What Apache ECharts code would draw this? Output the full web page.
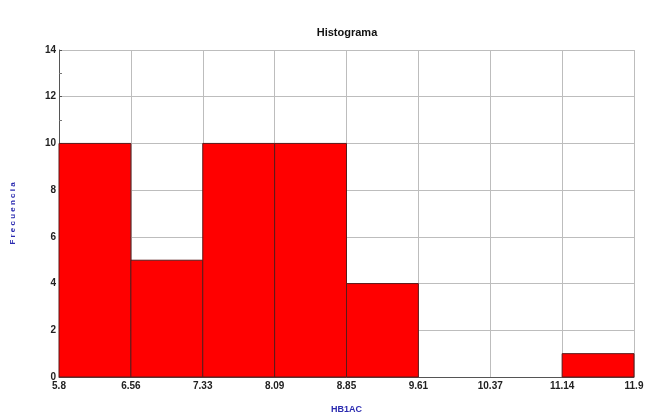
<!DOCTYPE html>
<html><head><meta charset="utf-8">
<script src="https://cdn.jsdelivr.net/npm/echarts@6/dist/echarts.min.js"></script>
<style>html,body{margin:0;padding:0;background:#fff}#c{width:646px;height:416px}</style>
</head><body><div id="c"></div>
<script>
const binEdges = ['5.8','6.56','7.33','8.09','8.85','9.61','10.37','11.14','11.9'];
const frequencies = [10, 5, 10, 10, 4, 0, 0, 1];
const yTicks = [0, 2, 4, 6, 8, 10, 12, 14];

const chart = echarts.init(document.getElementById('c'));
const font = '"Liberation Sans Narrow","Liberation Sans",Arial,sans-serif';
chart.setOption({
  animation: false,
  title: {
    text: 'Histograma', left: 342, top: 22, textAlign: 'center',
    textStyle: { fontFamily: 'Liberation Sans, Arial', fontSize: 11, fontWeight: 'bold', color: '#111' }
  },
  grid: { left: 59, right: 12, top: 50, bottom: 39, containLabel: false, outerBoundsMode: 'none' },
  xAxis: {
    type: 'value', min: 0, max: binEdges.length - 1, interval: 1,
    name: 'HB1AC', nameLocation: 'middle', nameGap: 28,
    nameTextStyle: { color: '#2b2bb0', fontFamily: 'Liberation Sans, Arial', fontSize: 9, fontWeight: 'bold' },
    axisLine: { show: true, onZero: false, lineStyle: { color: '#555', width: 1 } },
    axisTick: { show: false },
    splitLine: { show: true, lineStyle: { color: '#bdbdbd', width: 1 } },
    axisLabel: { formatter: v => binEdges[v], color: '#222', fontFamily: font, fontSize: 10, fontWeight: 'bold', margin: 4 }
  },
  yAxis: {
    type: 'value', min: 0, max: yTicks[yTicks.length - 1], interval: 2,
    name: 'F r e c u e n c i a', nameLocation: 'middle', nameGap: 42, nameRotate: 90,
    nameTextStyle: { color: '#2b2bb0', fontFamily: 'Liberation Sans, Arial', fontSize: 8, fontWeight: 'bold' },
    axisLine: { show: true, lineStyle: { color: '#555', width: 1 } },
    axisTick: { show: true, inside: true, length: 3, lineStyle: { color: '#555' } },
    minorTick: { show: true, splitNumber: 2, length: 3, lineStyle: { color: '#777' } },
    splitLine: { show: true, lineStyle: { color: '#bdbdbd', width: 1 } },
    axisLabel: { color: '#222', fontFamily: font, fontSize: 10, fontWeight: 'bold', margin: 3 }
  },
  series: [{
    type: 'custom',
    data: frequencies.map((f, i) => [i, i + 1, f]),
    renderItem: (params, api) => {
      const f = api.value(2);
      if (!f) return null;
      const p0 = api.coord([api.value(0), 0]);
      const p1 = api.coord([api.value(1), f]);
      return {
        type: 'rect',
        shape: { x: p0[0], y: p1[1], width: p1[0] - p0[0], height: p0[1] - p1[1] },
        style: { fill: '#ff0000', stroke: '#5a1a1a', lineWidth: 1 }
      };
    },
    encode: { x: [0, 1], y: 2 }
  }]
});
</script></body></html>
